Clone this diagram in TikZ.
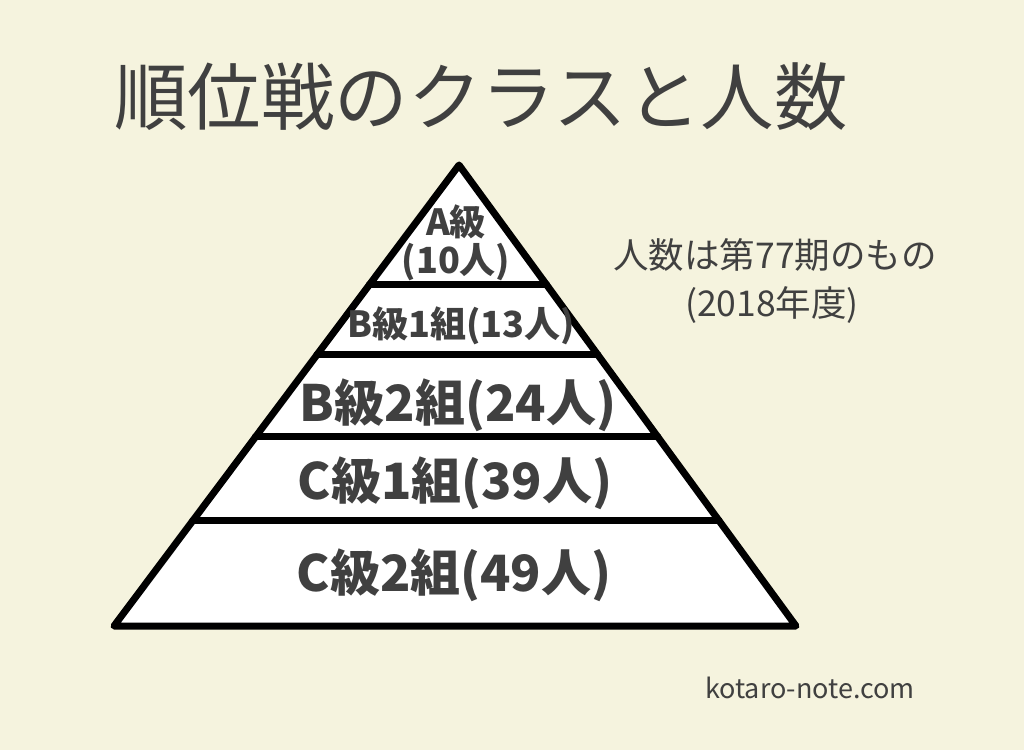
\documentclass[tikz,border=0pt]{standalone}
\usepackage{fontspec}
\setmainfont{Noto Sans CJK JP}
\usetikzlibrary{calc}
\definecolor{bg}{HTML}{F5F3DE}
\definecolor{ink}{HTML}{404040}
\tikzset{
  outline/.style={fill=white, draw=black, line width=7pt, line join=round},
  divider/.style={draw=black, line width=7pt, line cap=round},
  tier/.style={text=ink, font=\bfseries\fontsize{50}{56}\selectfont, inner sep=0pt},
  smalltier/.style={text=ink, font=\bfseries\fontsize{36}{40}\selectfont, inner sep=0pt},
  note/.style={text=ink, font=\fontsize{35.5}{40}\selectfont, inner sep=0pt},
}
\begin{document}
\begin{tikzpicture}[x=1pt,y=1pt]
\fill[bg] (0,0) rectangle (1024,750);
\useasboundingbox (0,0) rectangle (1024,750);
\coordinate (apex) at (459,585);
\coordinate (bl) at (114,124);
\coordinate (br) at (796,124);
\filldraw[outline] (apex) -- (br) -- (bl) -- cycle;
\foreach \t/\n in {0.260/1,0.412/2,0.590/3,0.772/4}{
  \coordinate (l\n) at ($(apex)!\t!(bl)$);
  \coordinate (r\n) at ($(apex)!\t!(br)$);
  \draw[divider] (l\n) -- (r\n);
}
\node[text=ink, font=\fontsize{73.5}{80}\selectfont, inner sep=0pt] (title) at (481,653) {順位戦のクラスと人数};
\node[smalltier] (a1) at (456,528) {A級};
\node[smalltier] (a2) at (456,488) {(10人)};
\node[smalltier] (b1) at (461,424) {B級1組(13人)};
\node[tier] (b2) at (458,345) {B級2組(24人)};
\node[tier] (c1) at (455,267) {C級1組(39人)};
\node[tier] (c2) at (454,175) {C級2組(49人)};
\node[note] (n1) at (775,495) {人数は第77期のもの};
\node[note] (n2) at (772,445) {(2018年度)};
\node[text=ink, font=\fontsize{27}{30}\selectfont, inner sep=0pt] (site) at (810,62) {kotaro-note.com};
\end{tikzpicture}
\end{document}
